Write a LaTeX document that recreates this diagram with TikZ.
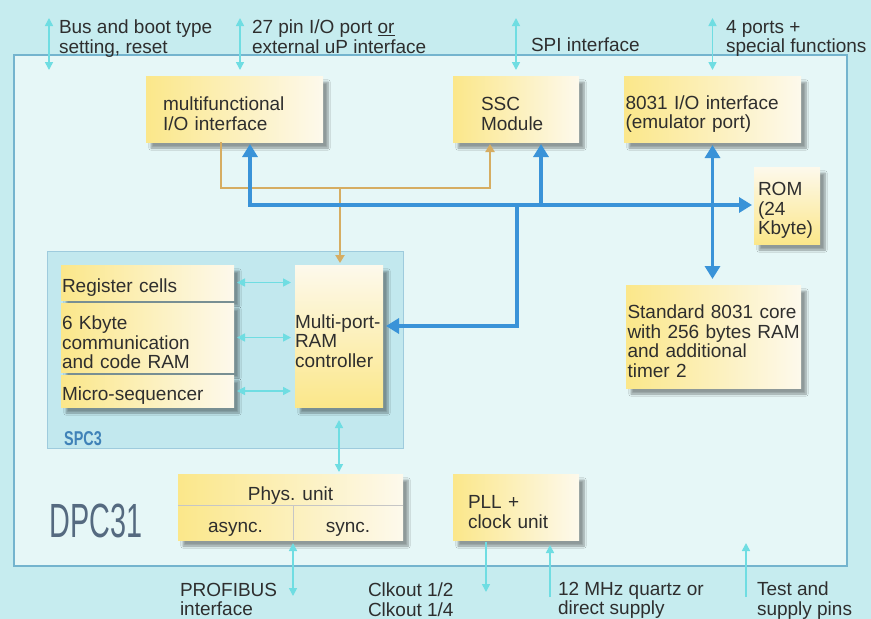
\documentclass[tikz,border=0pt]{standalone}
\usepackage{fontspec}
\setmainfont{Liberation Sans}
\usetikzlibrary{arrows.meta,shadows.blur}

\definecolor{seaout}{HTML}{C6ECEF}
\definecolor{seain}{HTML}{E6F7F7}
\definecolor{spcfill}{HTML}{C2E8EE}
\definecolor{frameline}{HTML}{74B4CE}
\definecolor{boxyellow}{HTML}{FBE78A}
\definecolor{boxcream}{HTML}{FDF9EC}
\definecolor{busblue}{HTML}{3A93D8}
\definecolor{ctrlorange}{HTML}{D6AD62}
\definecolor{pincyan}{HTML}{6FDDE2}
\definecolor{logogray}{HTML}{556A80}
\definecolor{spcblue}{HTML}{3F82B8}
\definecolor{textgray}{HTML}{2E2E2E}

\begin{document}
\begin{tikzpicture}[x=1pt, y=-1pt,
  every node/.style={font=\fontsize{19}{19.5}\selectfont, text=textgray, inner sep=0pt, outer sep=0pt},
  unit/.style={align=left, execute at begin node={\rule{0pt}{23.5pt}},
    blur shadow={shadow xshift=5pt, shadow yshift=-6pt, shadow blur steps=8, shadow opacity=38}},
  lbl/.style={align=left, anchor=north west},
  bus/.style={draw=busblue, line width=3.5pt},
  ctrl/.style={draw=ctrlorange, line width=2pt},
  pin/.style={draw=pincyan, line width=1.6pt},
  bustip/.tip={Triangle[width=15pt, length=13pt]},
  ctrltip/.tip={Triangle[width=9pt, length=8pt]},
  pintip/.tip={Triangle[width=8pt, length=8pt]}]
\useasboundingbox (0,0) rectangle (871,619);
\fill[seaout] (0,0) rectangle (871,619);

\node[draw=frameline, line width=1.5pt, fill=seain, minimum width=833, minimum height=511] (dpc) at (430.5,310.5) {};
\node[draw=frameline!70, line width=0.8pt, fill=spcfill, minimum width=356, minimum height=197] (spc) at (225,349.5) {};

\node[font=\fontsize{48}{48}\selectfont, text=logogray, xscale=0.6] (dpclogo) at (96,521) {DPC31};
\node[font=\fontsize{20}{20}\selectfont\bfseries, text=spcblue, xscale=0.72] (spclbl) at (83,439) {SPC3};

\node[unit, left color=boxyellow, right color=boxcream, minimum width=177, minimum height=66, text width=143] (mfio) at (234.5,109) {multifunctional\\I/O interface};
\node[unit, left color=boxyellow, right color=boxcream, minimum width=126, minimum height=66, text width=70] (ssc) at (516,109) {SSC\\Module};
\node[unit, left color=boxyellow, right color=boxcream, minimum width=177, minimum height=66, text width=174] (io8031) at (712.5,109) {8031 I/O interface\\(emulator port)};
\node[unit, top color=boxcream, bottom color=boxyellow, minimum width=66, minimum height=77, text width=58] (rom) at (787,205.5) {ROM\\(24\\Kbyte)};
\node[unit, left color=boxyellow, right color=boxcream, minimum width=175, minimum height=103, text width=172] (core) at (713.5,336.5) {Standard~8031~core\\with~256~bytes~RAM\\and additional\\timer 2};

\node[unit, left color=boxyellow, right color=boxcream, minimum width=173, minimum height=35, text width=171] (reg) at (147.5,282.5) {Register cells};
\node[unit, left color=boxyellow, right color=boxcream, minimum width=173, minimum height=69, text width=171] (kram) at (147.5,337.5) {6 Kbyte\\communication\\and code RAM};
\node[unit, left color=boxyellow, right color=boxcream, minimum width=173, minimum height=32, text width=171] (mseq) at (147.5,391) {Micro-sequencer};
\node[unit, top color=boxcream, bottom color=boxyellow, minimum width=88, minimum height=142, text width=88] (mprc) at (339,336) {Multi-port-\\RAM\\controller};

\node[unit, left color=boxyellow, right color=boxcream, minimum width=225, minimum height=66] (phys) at (290.5,507) {};
\node[anchor=base] (physlbl) at (290.5,500) {Phys. unit};
\node[anchor=base] (async) at (235.5,532) {async.};
\node[anchor=base] (sync) at (348,532) {sync.};
\draw[gray!45, line width=0.8pt] ([yshift=2pt]phys.west) -- ([yshift=2pt]phys.east);
\draw[gray!45, line width=0.8pt] (293,505) -- (phys.south -| 293,0);
\node[unit, left color=boxyellow, right color=boxcream, minimum width=126, minimum height=66, text width=96] (pll) at (516,507) {PLL +\\clock unit};

\node[lbl] (lbus) at (59,20) {Bus and boot type\\setting, reset};
\node[lbl] (l27) at (252,20) {27 pin I/O port \underline{or}\\external uP interface};
\node[lbl] (lspi) at (531,38) {SPI interface};
\node[lbl] (lports) at (726,20) {4 ports +\\special functions};
\node[lbl] (lprofi) at (180,583) {PROFIBUS\\interface};
\node[lbl] (lclk) at (368,583) {Clkout 1/2\\Clkout 1/4};
\node[lbl] (lquartz) at (558,582) {12 MHz quartz or\\direct supply};
\node[lbl] (ltest) at (757,582) {Test and\\supply pins};

\coordinate (busboot) at (49,18);
\coordinate (busbootin) at (49,70);
\coordinate (t27) at (240,18);
\coordinate (tspi) at (516,18);
\coordinate (tports) at (712.5,18);
\coordinate (profibus) at (293,596);
\coordinate (clkout) at (486,592);
\coordinate (quartz) at (550,597);
\coordinate (testpin) at (746,597);
\coordinate (testin) at (746,543);

\draw[pin, pintip-pintip] (busboot) -- (busbootin);
\draw[pin, pintip-pintip, shorten >=6pt] (t27) -- (mfio.north -| t27);
\draw[pin, pintip-pintip, shorten >=6pt] (tspi) -- (ssc.north);
\draw[pin, pintip-pintip, shorten >=6pt] (tports) -- (io8031.north);
\draw[pin, pintip-pintip, shorten <=3pt] (phys.south -| profibus) -- (profibus);
\draw[pin, -pintip, shorten <=2pt] (pll.south -| clkout) -- (clkout);
\draw[pin, -pintip, shorten >=5pt] (quartz) -- (pll.south -| quartz);
\draw[pin, -pintip] (testpin) -- (testin);

\draw[pin, pintip-pintip, shorten <=3pt, shorten >=4pt] (reg.east) -- (mprc.west |- reg.east);
\draw[pin, pintip-pintip, shorten <=3pt, shorten >=4pt] (kram.east) -- (mprc.west |- kram.east);
\draw[pin, pintip-pintip, shorten <=3pt, shorten >=4pt] (mseq.east) -- (mprc.west |- mseq.east);
\draw[pin, pintip-pintip, shorten <=13pt, shorten >=2pt] (mprc.south) -- (mprc.south |- phys.north);

\coordinate (o1) at (221,188);
\coordinate (o2) at (490,188);
\coordinate (o3) at (340,188);
\draw[ctrl, -ctrltip, shorten >=2pt] (mfio.south -| o1) -- (o1) -- (o2) -- (ssc.south -| o2);
\draw[ctrl, -ctrltip, shorten >=2pt] (o3) -- (mprc.north -| o3);

\coordinate (j1) at (250,205);
\coordinate (j2) at (541,205);
\coordinate (j3) at (517,205);
\coordinate (k3) at (517,326);
\draw[bus, bustip-bustip, shorten <=2pt, shorten >=2pt] (mfio.south -| j1) -- (j1) -- (rom.west |- j1);
\draw[bus, -bustip, shorten >=2pt] (j2) -- (ssc.south -| j2);
\draw[bus, -bustip, shorten >=3pt] (j3) -- (k3) -- (mprc.east |- k3);
\draw[bus, bustip-bustip, shorten <=3pt, shorten >=6pt] (io8031.south) -- (io8031.south |- core.north);
\end{tikzpicture}
\end{document}
